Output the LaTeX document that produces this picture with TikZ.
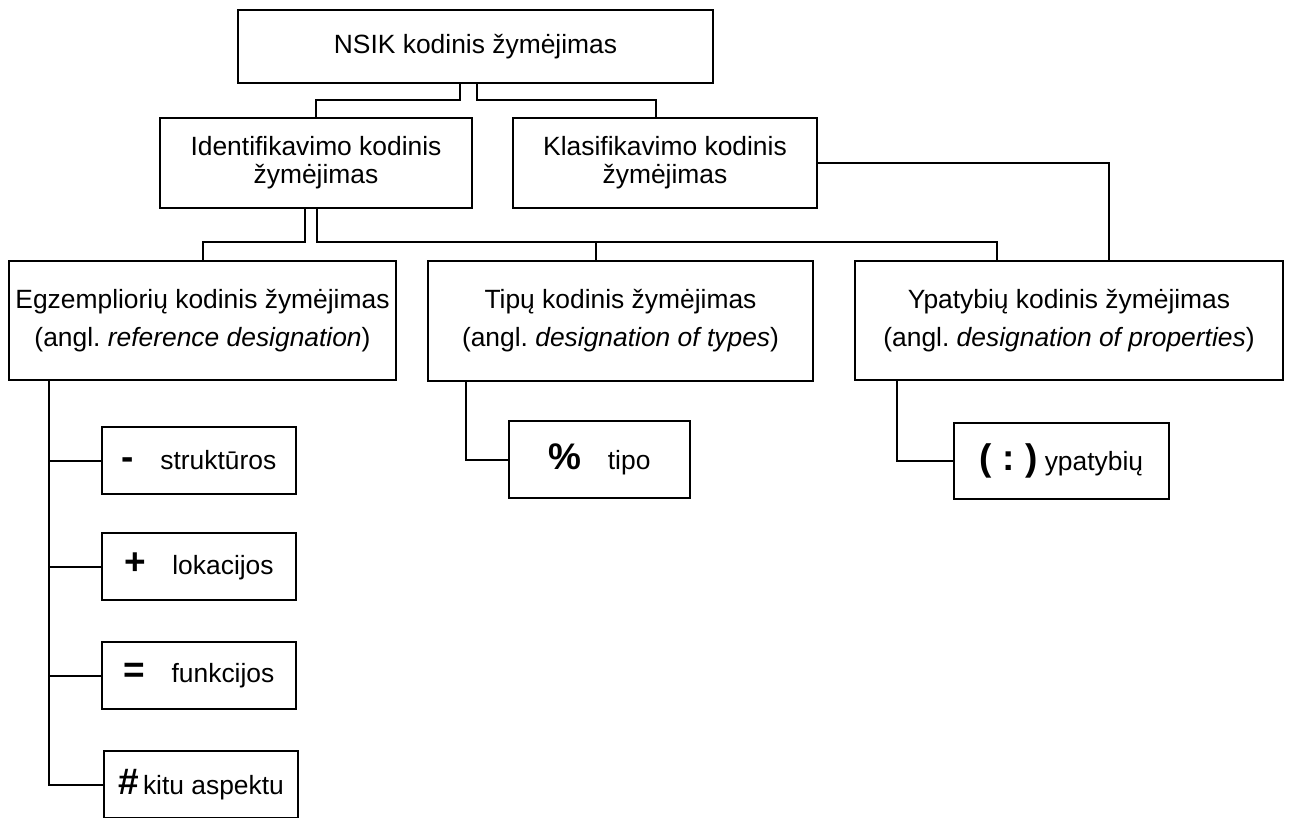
\documentclass[tikz,border=0pt]{standalone}
\usepackage{fontspec}
\setmainfont{Liberation Sans}
\usetikzlibrary{calc,positioning}
\newcommand{\codesym}[1]{{\fontsize{18.5}{18.5}\selectfont\bfseries #1}}
\frenchspacing

\begin{document}
\begin{tikzpicture}[
  x=0.5pt, y=-0.5pt,
  line join=miter,
  every node/.style={font=\fontsize{13.2}{15}\selectfont},
  box/.style={draw, line width=1pt, fill=white, align=center, inner sep=2pt, outer sep=0pt},
  topbox/.style={box, minimum width=237.5pt, minimum height=36.5pt},
  midbox/.style={box, minimum height=45pt, font=\fontsize{13.2}{14}\selectfont},
  bigbox/.style={box, minimum height=59.5pt, font=\fontsize{13.2}{19}\selectfont},
  smallbox/.style={box, minimum width=97pt, minimum height=33.5pt},
  link/.style={line width=1pt}
]
  \useasboundingbox (0,0) rectangle (1290,818);

  \node[topbox] (nsik) at (475.5,46.5) {NSIK kodinis žymėjimas};

  \node[midbox, minimum width=156pt] (ident) at (316,163) {Identifikavimo kodinis\\žymėjimas};
  \node[midbox, minimum width=152pt] (klas) at (665,163) {Klasifikavimo kodinis\\žymėjimas};

  \node[bigbox, minimum width=193.5pt] (egz) at (202.5,320.5) {Egzempliorių kodinis žymėjimas\\(angl. \textit{reference designation})};
  \node[bigbox, minimum width=192.5pt] (tipu) at (620.5,321) {Tipų kodinis žymėjimas\\(angl. \textit{designation of types})};
  \node[bigbox, minimum width=214pt] (ypat) at (1069,320.5) {Ypatybių kodinis žymėjimas\\(angl. \textit{designation of properties})};

  % reference designation prefixes, stacked under the trunk
  \node[smallbox] (strukt) at (199,460.5) {\codesym{-}\quad struktūros};
  \node[smallbox, below=19.5pt of strukt] (lokac) {\codesym{+}\quad lokacijos};
  \node[smallbox, below=21pt of lokac] (funkc) {\codesym{=}\quad funkcijos};
  \node[smallbox, below=21pt of funkc, xshift=1pt] (kitu) {\codesym{\#}\,kitu aspektu};

  \node[smallbox, minimum width=90.5pt, minimum height=38.5pt] (tipo) at (599.5,459.5) {\codesym{\%}\quad tipo};
  \node[smallbox, minimum width=107.5pt, minimum height=38pt] (ypatyb) at (1061.5,461) {\codesym{(\ :\ )}\ ypatybių};

  % bus line under the identification box
  \coordinate (bus) at (0,242);
  \coordinate (egzTrunk) at ([xshift=20pt]egz.south west);

  \draw[link] ([xshift=-7.75pt]nsik.south) -- ++(0,17) -| (ident.north);
  \draw[link] ([xshift=0.75pt]nsik.south) -- ++(0,17) -| ([xshift=-4.5pt]klas.north);

  \draw[link] ([xshift=-5.5pt]ident.south) |- (bus -| egz.north) -- (egz.north);
  \draw[link] ([xshift=0.5pt]ident.south) |- ([xshift=-36pt]ypat.north |- bus) -- ([xshift=-36pt]ypat.north);
  \draw[link] ([xshift=-12.25pt]tipu.north) -- ([xshift=-12.25pt]tipu.north |- bus);
  \draw[link] (klas.east) -| ([xshift=20pt]ypat.north);

  \draw[link] (egzTrunk) |- (kitu.west);
  \foreach \n in {strukt,lokac,funkc}
    \draw[link] (\n.west) -- (\n.west -| egzTrunk);

  \draw[link] ([xshift=19pt]tipu.south west) |- (tipo.west);
  \draw[link] ([xshift=21pt]ypat.south west) |- (ypatyb.west);
\end{tikzpicture}
\end{document}
